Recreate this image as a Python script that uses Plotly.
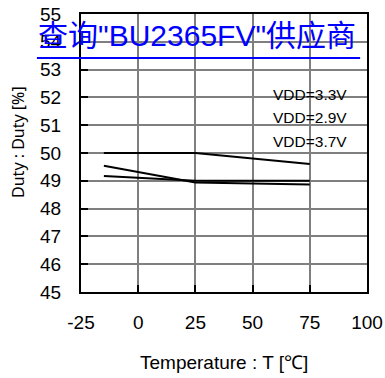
import plotly.graph_objects as go

temps = [-15, 25, 75]
duty_33 = [50.0, 50.0, 49.6]
duty_29 = [49.54, 48.94, 48.87]
duty_37 = [49.17, 49.0, 49.0]
labels = ["VDD=3.3V", "VDD=2.9V", "VDD=3.7V"]
x_ticks = [-25, 0, 25, 50, 75, 100]
x_tick_text = ["-25", "0", "25", "50", "75", "100"]
y_ticks = [45, 46, 47, 48, 49, 50, 51, 52, 53, 54, 55]

FONT = "Liberation Sans, Arial, sans-serif"

fig = go.Figure()
for ys in (duty_33, duty_29, duty_37):
    fig.add_trace(go.Scatter(x=temps, y=ys, mode="lines",
                             line=dict(color="black", width=2), showlegend=False))

axis_common = dict(showline=True, linecolor="black", linewidth=2, mirror=True,
                   showgrid=True, gridcolor="#7f7f7f", gridwidth=1.5,
                   ticks="inside", ticklen=7, tickwidth=1.5, tickcolor="black",
                   zeroline=False, automargin=False, ticklabeloverflow="allow",
                   tickfont=dict(family=FONT, size=19, color="black"))

fig.update_xaxes(range=[-25, 100], tickvals=x_ticks, ticktext=x_tick_text,
                 ticklabelstandoff=12, **axis_common)
fig.update_yaxes(range=[45, 55], tickvals=y_ticks, ticklabelstandoff=14, **axis_common)

ann_y = [52.12, 51.26, 50.4]
for lab, yy in zip(labels, ann_y):
    fig.add_annotation(x=75, y=yy, xref="x", yref="y", text=lab, showarrow=False,
                       xanchor="center", yanchor="middle",
                       font=dict(family=FONT, size=15.5, color="black"))

fig.add_annotation(x=0.5, y=-0.252, xref="paper", yref="paper",
                   text="Temperature : T [℃]", showarrow=False,
                   xanchor="center", yanchor="middle",
                   font=dict(family=FONT, size=19, color="black"))
fig.add_annotation(x=-0.22, y=0.54, xref="paper", yref="paper",
                   text="Duty : Duty [%]", showarrow=False, textangle=-90,
                   xanchor="center", yanchor="middle",
                   font=dict(family="Noto Sans, Liberation Sans, sans-serif", size=16, color="black"))

fig.add_annotation(x=0.406, y=0.921, xref="paper", yref="paper",
                   text='查询"BU2365FV"供应商', showarrow=False,
                   xanchor="center", yanchor="middle",
                   font=dict(family="Liberation Sans, Noto Sans CJK SC, sans-serif",
                             size=30, color="#0000ff"))
fig.add_shape(type="line", xref="paper", yref="paper", x0=-0.154, x1=0.976,
              y0=0.842, y1=0.842, line=dict(color="#0000ff", width=2))

fig.update_layout(width=385, height=378, margin=dict(l=81, r=18, t=14, b=86),
                  paper_bgcolor="white", plot_bgcolor="white")

fig.write_html("out.html", config={"displayModeBar": False},
               post_script="document.body.style.margin='0px';")
